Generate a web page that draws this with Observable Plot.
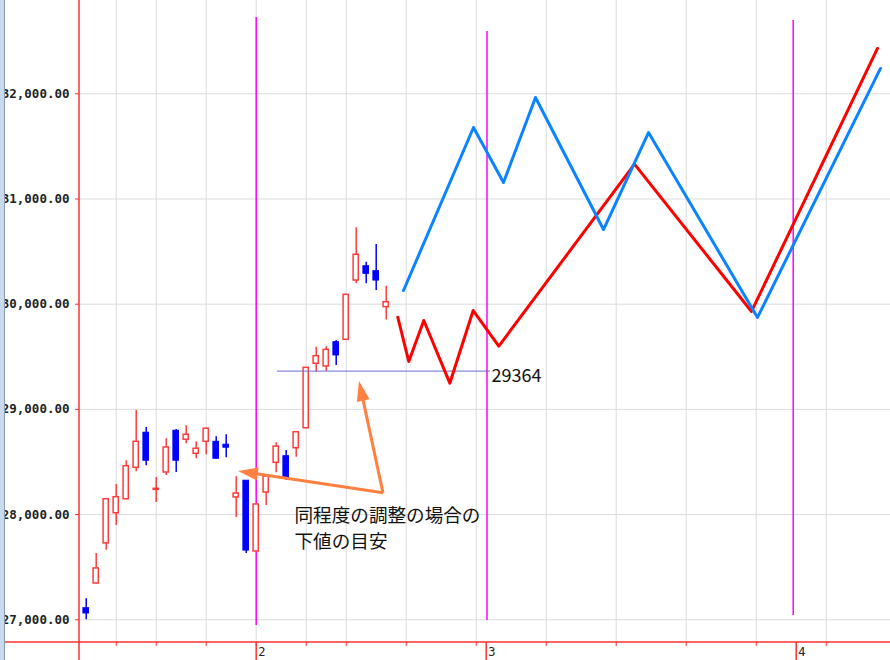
<!DOCTYPE html>
<html><head><meta charset="utf-8">
<script src="https://cdn.jsdelivr.net/npm/d3@7"></script>
<script src="https://cdn.jsdelivr.net/npm/@observablehq/plot@0.6"></script>
<style>
html,body{margin:0;padding:0;background:#fff;overflow:hidden}
#wrap{position:relative;width:890px;height:660px;overflow:hidden}
#strip{position:absolute;left:0;top:0;width:4px;height:660px;background:#c9d9ee;border-right:1px solid #8c9bb0}
</style></head>
<body><div id="wrap"><div id="chart"></div><div id="strip"></div></div>
<script>
// ---- candle data (daily, index = trading day) ----
const opens  = [27110,27345,27726,28013,28146,28445,28778,28235,28400,28797,28712,28578,28692,28692,28664,28163,28322,27649,28210,28492,28555,28631,28821,29434,29408,29639,29661,30225,30361,30314,29972];
const highs  = [27200,27630,28150,28286,28512,28990,28828,28353,28721,28810,28845,28692,28820,28740,28759,28360,28322,28096,28362,28682,28609,28785,29395,29591,29595,29655,30089,30726,30399,30568,30171];
const lows   = [27000,27340,27660,27896,28140,28407,28464,28115,28372,28400,28674,28531,28569,28525,28540,27973,27630,27649,28086,28397,28324,28546,28821,29354,29360,29417,29661,30194,30194,30130,29850];
const closes = [27060,27488,28146,28165,28460,28692,28512,28245,28638,28512,28759,28626,28816,28531,28636,28200,27658,28096,28362,28646,28350,28783,29395,29506,29566,29513,30089,30470,30289,30225,30019];

// ---- projection paths ----
const redX  = [31.16,32.26,33.76,36.36,38.70,41.26,54.83,66.53,79.13];
const redY  = [29876,29455,29845,29249,29940,29601,31331,29931,32431];
const blueX = [31.73,38.73,41.73,44.93,51.73,56.23,67.13,79.43];
const blueY = [30130,31680,31157,31965,30710,31632,29874,32241];

// ---- axes / guides ----
const yTicks = [27000,28000,29000,30000,31000,32000];
const xGrid = [3,7,12,17,22,26,32,39,46,53,60,67,74];
const monthTicks = [17,40,71];
const monthLabels = ["2","3","4"];
const magentaX = [17,40.08,70.7];
const magentaTop = [32726,32593,32697];
const magentaBottom = [26946,26993,27041];

// ---- support level & annotation ----
const support = 29364;
const supportFrom = 19.13, supportTo = 40.43;
const noteText = "同程度の調整の場合の\n下値の目安";
const notePos = [20.83, 27882];
const arrowTail = [29.73, 28202];
const arrowTips = [[15.23, 28410],[27.33, 29265]];

const RED = "#ff3030", CR = "#ff3c3c", CB = "#0000ff", ORANGE = "#ff8040";

const candles = opens.map((o,i)=>({i, open:o, high:highs[i], low:lows[i], close:closes[i], up: closes[i] >= o}));
const ups = candles.filter(d=>d.up), downs = candles.filter(d=>!d.up);
const redLine = redX.map((x,i)=>({x, y: redY[i]}));
const blueLine = blueX.map((x,i)=>({x, y: blueY[i]}));
const mags = magentaX.map((x,i)=>({x, y1: magentaTop[i], y2: magentaBottom[i]}));

const plot = Plot.plot({
  width: 890, height: 660,
  marginLeft: 79, marginRight: 0, marginTop: 0, marginBottom: 18,
  x: {domain: [-0.67, 80.43], axis: null},
  y: {domain: [26784, 32887], axis: null},
  style: {background: "white", overflow: "visible"},
  marks: [
    Plot.gridY(yTicks, {stroke: "#dcdcdc", strokeOpacity: 1}),
    Plot.gridX(xGrid, {stroke: "#dcdcdc", strokeOpacity: 1}),
    Plot.axisY(yTicks, {tickSize: 4, tickPadding: 6, stroke: RED, fill: "#222", fontFamily: "DejaVu Sans Mono", fontWeight: "bold", fontSize: 12.5, tickFormat: d3.format(",.2f")}),
    Plot.axisX(xGrid, {tickSize: 4, stroke: RED, tickFormat: () => ""}),
    Plot.axisX(monthTicks, {tickSize: 18, stroke: RED, strokeWidth: 1.5, tickFormat: () => ""}),
    Plot.text(monthTicks, {x: d => d, text: (d,i) => monthLabels[i], frameAnchor: "bottom", lineAnchor: "top", textAnchor: "start", dx: 2, dy: 5, fontSize: 12, fontFamily: "DejaVu Sans Mono", fill: "#222"}),
    Plot.ruleX(mags, {x: "x", y1: "y1", y2: "y2", stroke: "#ff00ff", strokeWidth: 1.5}),
    Plot.ruleX(ups, {x: "i", y1: "low", y2: "high", stroke: CR, strokeWidth: 1.5}),
    Plot.ruleX(downs, {x: "i", y1: "low", y2: "high", stroke: CB, strokeWidth: 1.5}),
    Plot.rect(ups, {x1: d => d.i - 0.26, x2: d => d.i + 0.26, y1: "open", y2: "close", fill: "white", stroke: CR, strokeWidth: 1.5}),
    Plot.rect(downs, {x1: d => d.i - 0.28, x2: d => d.i + 0.28, y1: "open", y2: "close", fill: CB, stroke: CB, strokeWidth: 1}),
    Plot.ruleY([support], {x1: supportFrom, x2: supportTo, stroke: "#6a6ad0", strokeWidth: 1}),
    Plot.text([support], {x: supportTo, y: d => d, text: d => String(d), textAnchor: "start", dx: 1, dy: 5, fontSize: 18, fontFamily: "Noto Sans CJK JP", fill: "#111"}),
    Plot.line(redLine, {x: "x", y: "y", stroke: "#ff0000", strokeWidth: 3}),
    Plot.line(blueLine, {x: "x", y: "y", stroke: "#0a84ff", strokeWidth: 3}),
    Plot.text([noteText], {x: notePos[0], y: notePos[1], text: d => d, textAnchor: "start", lineAnchor: "middle", lineHeight: 1.35, fontSize: 18.6, fontFamily: "Noto Sans CJK JP", fill: "#111"})
  ]
});
document.getElementById("chart").appendChild(plot);

const sx = plot.scale("x"), sy = plot.scale("y");
const svg = d3.select(plot);
const g = svg.append("g");
// axis lines
const bottomY = 660 - 18;
g.append("line").attr("x1", 5).attr("x2", 890).attr("y1", bottomY).attr("y2", bottomY).attr("stroke", RED).attr("stroke-width", 1.5);
g.append("line").attr("x1", 79).attr("x2", 79).attr("y1", 0).attr("y2", 660).attr("stroke", RED).attr("stroke-width", 1.5);
// arrows
arrowTips.forEach(([ti, tp]) => {
  const x0 = sx.apply(arrowTail[0]), y0 = sy.apply(arrowTail[1]);
  const x1 = sx.apply(ti), y1 = sy.apply(tp);
  const dx = x1 - x0, dy = y1 - y0, L = Math.hypot(dx, dy), ux = dx / L, uy = dy / L;
  const hl = 20, hw = 6.5;
  const bx = x1 - ux * hl, by = y1 - uy * hl;
  g.append("line").attr("x1", x0).attr("y1", y0).attr("x2", bx + ux * 3).attr("y2", by + uy * 3)
    .attr("stroke", ORANGE).attr("stroke-width", 3);
  g.append("polygon").attr("points", [[x1, y1], [bx - uy * hw, by + ux * hw], [bx + uy * hw, by - ux * hw]].map(p => p.join(",")).join(" "))
    .attr("fill", ORANGE);
});
</script></body></html>
